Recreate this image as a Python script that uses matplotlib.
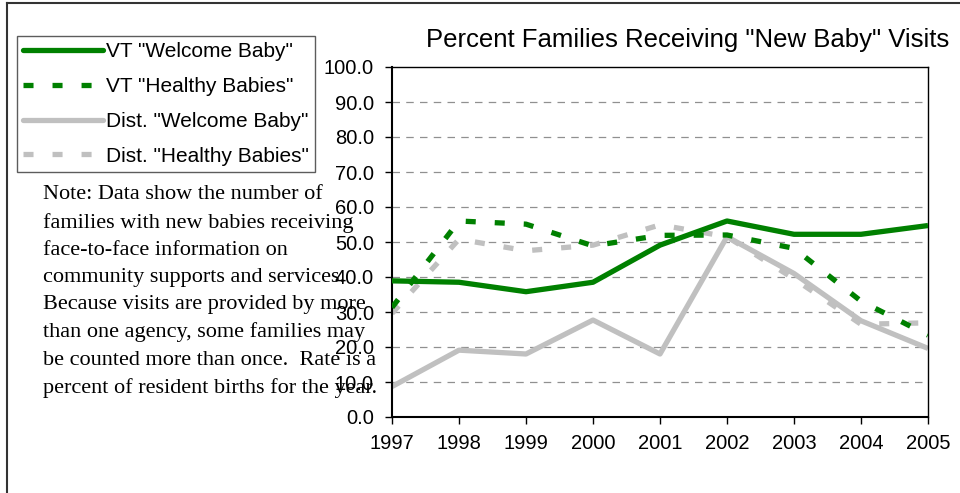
import matplotlib
matplotlib.use("Agg")
import matplotlib.pyplot as plt
from matplotlib.lines import Line2D

years = [1997, 1998, 1999, 2000, 2001, 2002, 2003, 2004, 2005]
vt_welcome = [38.9, 38.5, 35.8, 38.5, 49.1, 56.0, 52.2, 52.2, 54.7]
vt_healthy = [31.3, 56.0, 55.1, 48.9, 51.9, 52.0, 48.2, 33.1, 23.4]
dist_welcome = [8.7, 19.1, 18.0, 27.7, 18.0, 51.5, 41.0, 27.5, 19.6]
dist_healthy = [29.6, 50.8, 47.5, 49.1, 54.9, 51.5, 39.5, 26.5, 26.9]
yticks = [0, 10, 20, 30, 40, 50, 60, 70, 80, 90, 100]

title = 'Percent Families Receiving "New Baby" Visits'
labels = ['VT "Welcome Baby"', 'VT "Healthy Babies"',
          'Dist. "Welcome Baby"', 'Dist. "Healthy Babies"']
note = ("Note: Data show the number of\n"
        "families with new babies receiving\n"
        "face-to-face information on\n"
        "community supports and services.\n"
        "Because visits are provided by more\n"
        "than one agency, some families may\n"
        "be counted more than once.  Rate is a\n"
        "percent of resident births for the year.")

green = "#008000"
gray = "#c0c0c0"

plt.rcParams['font.family'] = ['Liberation Sans', 'DejaVu Sans']

fig = plt.figure(figsize=(9.6, 4.93), dpi=100)
W, H = 960, 493
ax = fig.add_axes([392 / W, (H - 417) / H, (928 - 392) / W, (417 - 67) / H])

lw = 3.8
dash = (0, (1.9, 3.6))
ax.plot(years, vt_welcome, color=green, lw=lw, solid_capstyle='butt', zorder=4)
ax.plot(years, vt_healthy, color=green, lw=lw, linestyle=dash, zorder=3)
ax.plot(years, dist_welcome, color=gray, lw=lw, solid_capstyle='butt', zorder=2)
ax.plot(years, dist_healthy, color=gray, lw=lw, linestyle=dash, zorder=1)

ax.set_xlim(1997, 2005)
ax.set_ylim(0, 100)
ax.set_yticks(yticks)
ax.set_yticklabels([f"{v:.1f}" for v in yticks])
ax.set_xticks(years)
ax.set_xticklabels([str(y) for y in years])
ax.tick_params(axis='both', labelsize=14.5, direction='out', length=5,
               width=1, colors='black', pad=8)
ax.tick_params(axis='x', pad=7)
for y in yticks[1:-1]:
    ax.axhline(y, color='#909090', lw=0.9, linestyle=(0, (6, 5)), zorder=0)
for s in ax.spines.values():
    s.set_color('black')
    s.set_linewidth(1.0)
ax.spines['left'].set_linewidth(1.5)
ax.spines['bottom'].set_linewidth(1.5)

fig.text(688 / W, 1 - 40 / H, title, ha='center', va='center', fontsize=18.5)

handles = [
    Line2D([], [], color=green, lw=lw, solid_capstyle='round'),
    Line2D([], [], color=green, lw=lw, linestyle=dash),
    Line2D([], [], color=gray, lw=lw, solid_capstyle='round'),
    Line2D([], [], color=gray, lw=lw, linestyle=dash),
]
leg = fig.legend(handles, labels, loc='upper left',
                 bbox_to_anchor=(17 / W, 1 - 36 / H), fontsize=15,
                 handlelength=3.85, handletextpad=0.1, labelspacing=0.76,
                 borderpad=0.3, borderaxespad=0, fancybox=False,
                 frameon=True, edgecolor='#333333')
leg.get_frame().set_linewidth(1.0)

fig.text(43 / W, 1 - 185 / H, note, ha='left', va='top', fontsize=16,
         family=['Liberation Serif', 'DejaVu Serif'], linespacing=1.58)

# outer frame
fig.add_artist(Line2D([7 / W, 7 / W], [0, 1 - 3 / H], color='#333333', lw=1.5,
                      transform=fig.transFigure))
fig.add_artist(Line2D([7 / W, 1], [1 - 3 / H, 1 - 3 / H], color='#333333', lw=1.5,
                      transform=fig.transFigure))

fig.savefig("out.png", dpi=100)
